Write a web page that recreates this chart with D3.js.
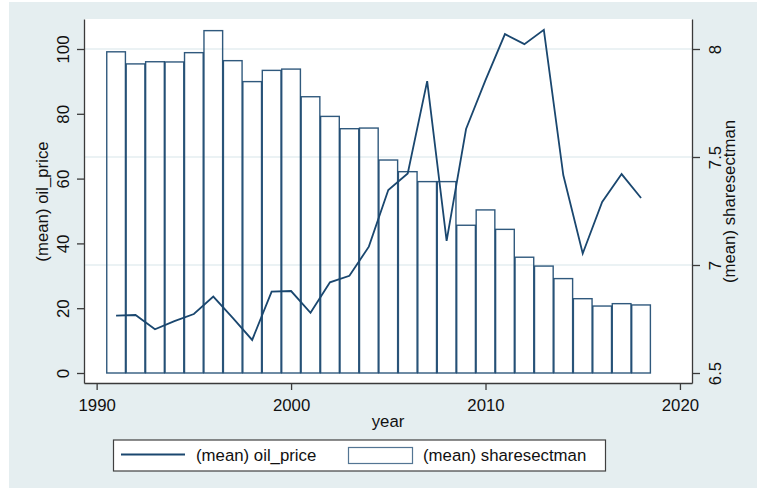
<!DOCTYPE html>
<html><head><meta charset="utf-8">
<script src="https://cdn.jsdelivr.net/npm/d3@7"></script>
<style>html,body{margin:0;padding:0;background:#fff;}svg{display:block;font-family:Arial,"Liberation Sans",sans-serif;}</style>
</head><body>
<script>
const years = [1991,1992,1993,1994,1995,1996,1997,1998,1999,2000,2001,2002,2003,2004,2005,2006,2007,2008,2009,2010,2011,2012,2013,2014,2015,2016,2017,2018];
const oilPrice = [17.7,17.9,13.5,16.0,18.2,23.6,17.0,10.2,25.1,25.3,18.6,28.0,30.0,39.0,56.5,61.6,90.1,40.8,75.3,90.4,104.6,101.5,105.9,61.1,36.9,52.8,61.4,54.0];
const shareSectMan = [7.987,7.931,7.941,7.940,7.983,8.085,7.946,7.849,7.901,7.907,7.779,7.688,7.631,7.634,7.486,7.432,7.386,7.386,7.184,7.255,7.165,7.036,6.995,6.937,6.844,6.810,6.821,6.815];
const xTicks = [1990,2000,2010,2020];
const leftTicks = [0,20,40,60,80,100];
const rightTicks = [6.5,7,7.5,8];
const gridTicks = [7,7.5,8];
const xTitle = "year";
const leftTitle = "(mean) oil_price";
const rightTitle = "(mean) sharesectman";

const W = 757, H = 488;
const L = 84, R = 692, T = 19, B = 383;
const navy = "#1a476f", bg = "#e5eef0", axisCol = "#3a3a3a";
const FS = 16.8, SX = 1.0;

const svg = d3.select("body").append("svg").attr("width", W).attr("height", H);
svg.append("rect").attr("width", W).attr("height", H).attr("fill", "#fff");
svg.append("rect").attr("x", 9).attr("y", 2).attr("width", W - 9).attr("height", H - 2).attr("fill", bg);
svg.append("rect").attr("x", L).attr("y", T).attr("width", R - L).attr("height", B - T).attr("fill", "#fff");

const x = d3.scaleLinear().domain([1989.35, 2020.62]).range([L, R]);
const yL = d3.scaleLinear().domain([-10 / 3.24, 354 / 3.24]).range([B, T]);
const yR = d3.scaleLinear().domain([6.5 - 10 / 216, 6.5 + 354 / 216]).range([B, T]);

// gridlines
svg.append("g").selectAll("line").data(gridTicks).join("line")
  .attr("x1", L).attr("x2", R).attr("y1", d => yR(d)).attr("y2", d => yR(d))
  .attr("stroke", bg).attr("stroke-width", 1.5);

// bars
const bw = x(1990.96) - x(1990);
svg.append("g").selectAll("rect").data(years).join("rect")
  .attr("x", d => x(d) - bw / 2).attr("width", bw)
  .attr("y", (d, i) => yR(shareSectMan[i]))
  .attr("height", (d, i) => yR(6.5) - yR(shareSectMan[i]))
  .attr("fill", "none").attr("stroke", navy).attr("stroke-width", 1.4).attr("stroke-opacity", 0.9);

// line
const line = d3.line().x((d, i) => x(years[i])).y(d => yL(d));
svg.append("path").datum(oilPrice).attr("d", line)
  .attr("fill", "none").attr("stroke", navy).attr("stroke-width", 1.8).attr("stroke-linejoin", "miter");

function styleAxis(g) {
  g.select(".domain").attr("stroke", axisCol).attr("stroke-width", 1.3);
  g.selectAll(".tick line").attr("stroke", axisCol).attr("stroke-width", 1.3);
  g.selectAll("text").attr("fill", "#111").attr("font-size", FS).attr("font-family", "Arial, 'Liberation Sans', sans-serif");
}

// x axis
const gx = svg.append("g").attr("transform", `translate(0,${B})`)
  .call(d3.axisBottom(x).tickValues(xTicks).tickFormat(d3.format("d")).tickSize(7).tickSizeOuter(0));
styleAxis(gx);
gx.selectAll(".tick text").attr("y", null).attr("dy", null)
  .attr("transform", `translate(0,27.5) scale(${SX},1)`).attr("text-anchor", "middle");

// left axis
const gl = svg.append("g").attr("transform", `translate(${L},0)`)
  .call(d3.axisLeft(yL).tickValues(leftTicks).tickSize(7).tickSizeOuter(0));
styleAxis(gl);
gl.selectAll(".tick text").attr("x", null).attr("dy", null)
  .attr("transform", `translate(-15,0) scale(${SX},1) rotate(-90)`).attr("text-anchor", "middle");

// right axis
const gr = svg.append("g").attr("transform", `translate(${R},0)`)
  .call(d3.axisRight(yR).tickValues(rightTicks).tickFormat(d3.format("")).tickSize(8).tickSizeOuter(0));
styleAxis(gr);
gr.selectAll(".tick text").attr("x", null).attr("dy", null)
  .attr("transform", `translate(29,0) scale(${SX},1) rotate(-90)`).attr("text-anchor", "middle");

// titles
function label(txt, tx, ty, rot) {
  svg.append("text").text(txt).attr("font-size", FS).attr("fill", "#111").attr("text-anchor", "middle")
    .attr("transform", `translate(${tx},${ty}) scale(${SX},1)` + (rot ? " rotate(-90)" : ""));
}
label(xTitle, 388, 427, false);
label(leftTitle, 48, 201.5, true);
label(rightTitle, 735, 201.5, true);

// legend
const lg = svg.append("g");
lg.append("rect").attr("x", 113.5).attr("y", 440).attr("width", 492).attr("height", 31)
  .attr("fill", "#fff").attr("stroke", "#404040").attr("stroke-width", 1.2);
lg.append("line").attr("x1", 121).attr("x2", 185).attr("y1", 454.5).attr("y2", 454.5)
  .attr("stroke", navy).attr("stroke-width", 1.8);
lg.append("text").text(leftTitle).attr("font-size", FS).attr("fill", "#111")
  .attr("transform", `translate(196,461) scale(${SX},1)`);
lg.append("rect").attr("x", 348.5).attr("y", 447.5).attr("width", 64).attr("height", 16)
  .attr("fill", "#fff").attr("stroke", navy).attr("stroke-width", 1.2).attr("stroke-opacity", 0.75);
lg.append("text").text(rightTitle).attr("font-size", FS).attr("fill", "#111")
  .attr("transform", `translate(423,461) scale(${SX},1)`);
</script>
</body></html>
